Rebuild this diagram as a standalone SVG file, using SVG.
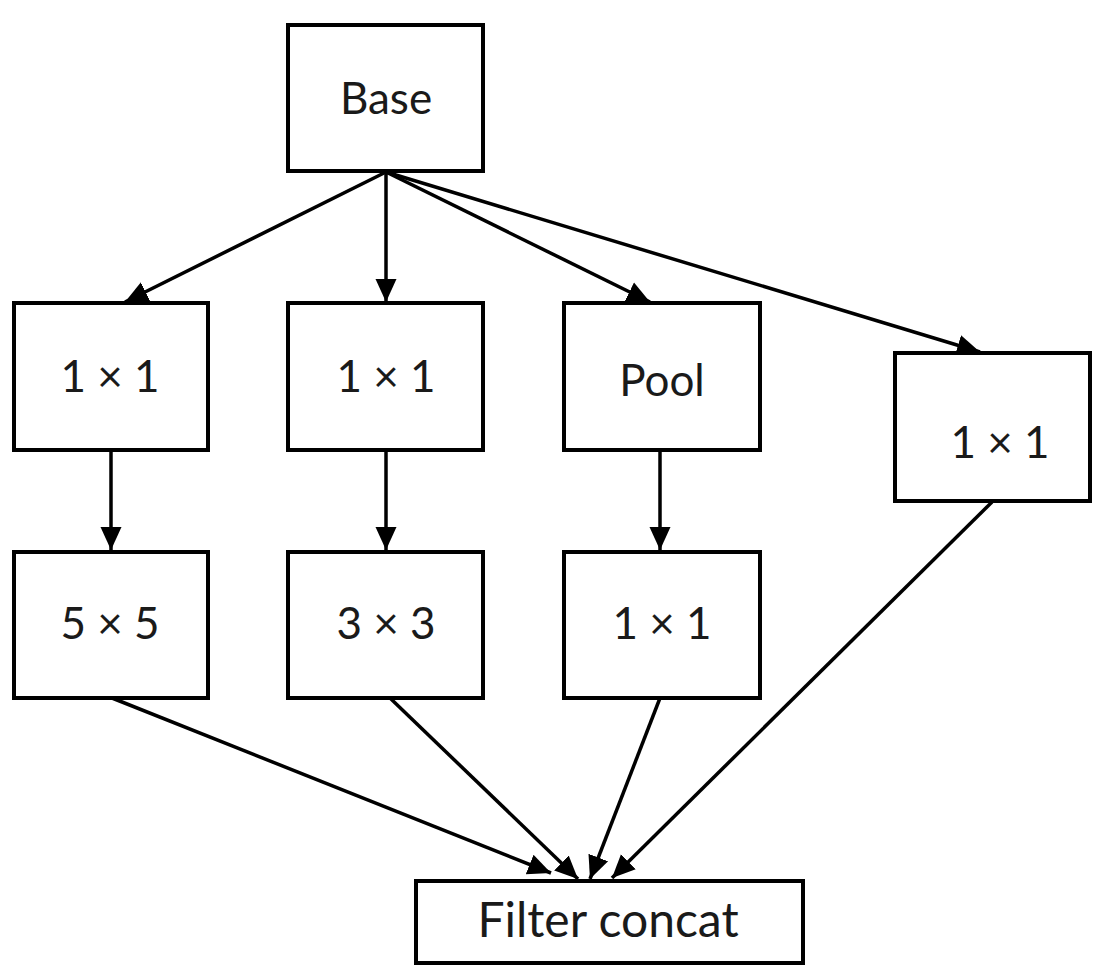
<svg xmlns="http://www.w3.org/2000/svg" width="1106" height="974" viewBox="0 0 1106 974">
  <style>
    .box { fill: #ffffff; stroke: #000000; stroke-width: 4; }
    .lbl { font-family: Lato, "Liberation Sans", sans-serif; font-size: 44px; fill: #1a1a1a; text-anchor: middle; }
    .edge { stroke: #000000; stroke-width: 3.5; fill: none; marker-end: url(#ah); }
  </style>
  <defs>
    <marker id="ah" markerUnits="userSpaceOnUse" markerWidth="24" markerHeight="24" viewBox="0 0 24 24" refX="23" refY="12" orient="auto">
      <path d="M0,1.5 L23,12 L0,22.5 z" fill="#000000"/>
    </marker>
  </defs>
  <rect width="1106" height="974" fill="#ffffff"/>

  <!-- connectors -->
  <g id="connectors">
    <line class="edge" x1="386" y1="172" x2="125" y2="302"/>
    <line class="edge" x1="386" y1="172" x2="386" y2="302"/>
    <line class="edge" x1="386" y1="172" x2="650" y2="302"/>
    <line class="edge" x1="386" y1="172" x2="980" y2="352"/>
    <line class="edge" x1="111" y1="450" x2="111" y2="550"/>
    <line class="edge" x1="386" y1="450" x2="386" y2="550"/>
    <line class="edge" x1="660" y1="450" x2="660" y2="550"/>
    <line class="edge" x1="112" y1="698" x2="551" y2="873"/>
    <line class="edge" x1="390" y1="698" x2="578" y2="879"/>
    <line class="edge" x1="660" y1="698" x2="590" y2="879"/>
    <line class="edge" x1="992" y1="502" x2="612" y2="878"/>
  </g>

  <g id="base">
    <rect class="box" x="288" y="25" width="195" height="146"/>
    <text class="lbl" x="386" y="114">Base</text>
  </g>
  <g id="conv1x1-a">
    <rect class="box" x="14" y="303" width="194" height="147"/>
    <text class="lbl" x="110" y="392">1 × 1</text>
  </g>
  <g id="conv1x1-b">
    <rect class="box" x="288" y="303" width="195" height="147"/>
    <text class="lbl" x="386" y="392">1 × 1</text>
  </g>
  <g id="pool">
    <rect class="box" x="564" y="303" width="196" height="147"/>
    <text class="lbl" x="662" y="396">Pool</text>
  </g>
  <g id="conv1x1-d">
    <rect class="box" x="895" y="353" width="195" height="148"/>
    <text class="lbl" x="1000" y="458">1 × 1</text>
  </g>
  <g id="conv5x5">
    <rect class="box" x="14" y="552" width="194" height="146"/>
    <text class="lbl" x="110" y="639">5 × 5</text>
  </g>
  <g id="conv3x3">
    <rect class="box" x="288" y="552" width="195" height="146"/>
    <text class="lbl" x="386" y="639">3 × 3</text>
  </g>
  <g id="conv1x1-c">
    <rect class="box" x="564" y="552" width="196" height="146"/>
    <text class="lbl" x="662" y="639">1 × 1</text>
  </g>
  <g id="filter-concat">
    <rect class="box" x="416" y="881" width="387" height="82"/>
    <text class="lbl" x="608" y="937" style="font-size:48px">Filter concat</text>
  </g>
</svg>
